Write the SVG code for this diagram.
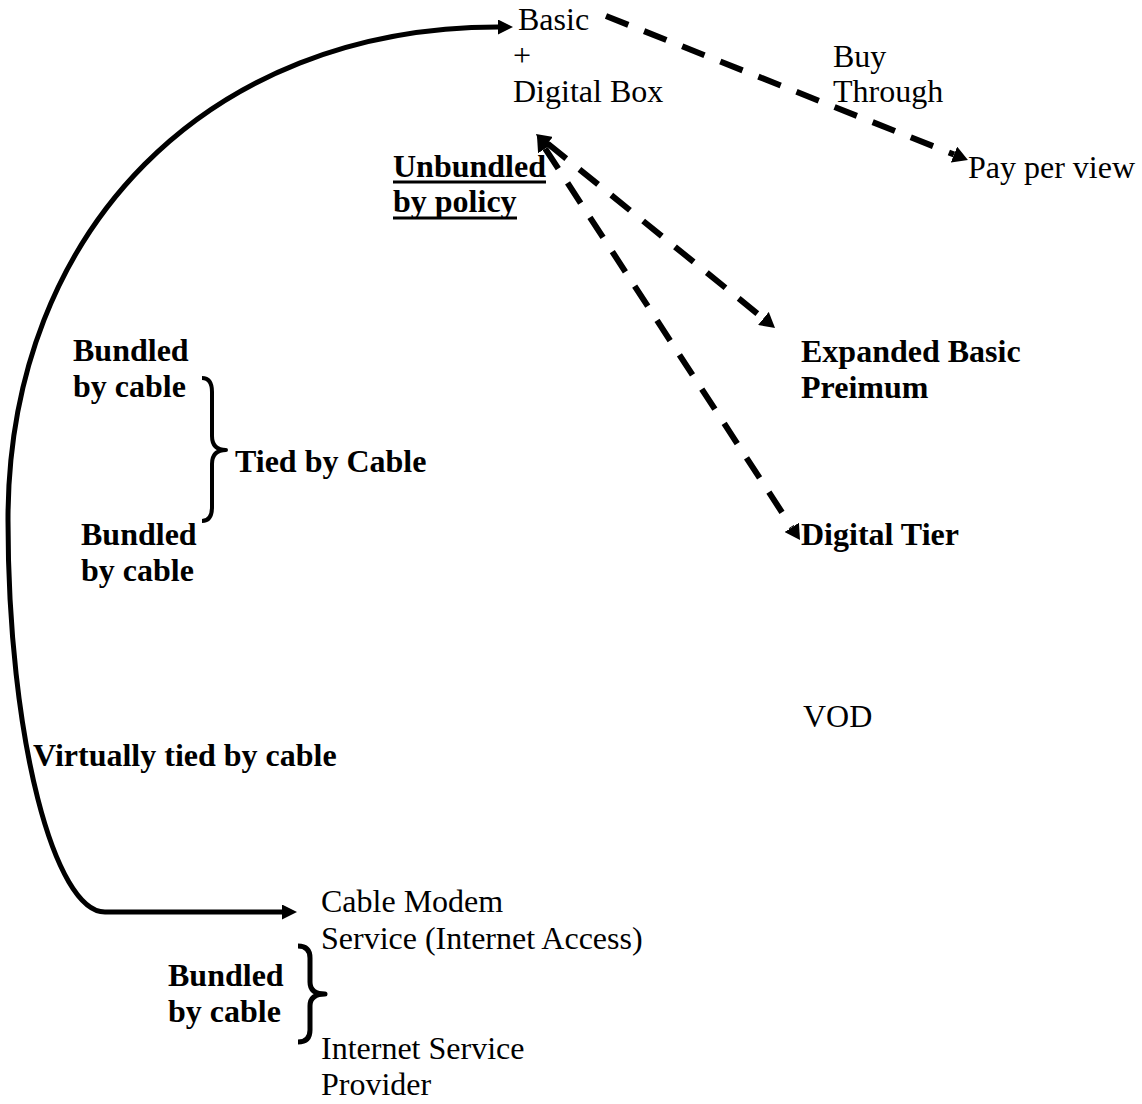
<svg xmlns="http://www.w3.org/2000/svg" width="1142" height="1104" viewBox="0 0 1142 1104">
<style>
text{font-family:"Liberation Serif","Times New Roman",serif;font-size:32px;fill:#000}
.b{font-weight:bold}
.solid{fill:none;stroke:#000;stroke-width:5}
.dash{fill:none;stroke:#000;stroke-width:6;stroke-dasharray:24 17}
.brace{fill:none;stroke:#000;stroke-width:4;stroke-linejoin:round}
.ul{stroke:#000;stroke-width:3}
</style>
<defs>
<marker id="ah" viewBox="0 0 15 15" refX="0" refY="7.5" markerWidth="15" markerHeight="15" markerUnits="userSpaceOnUse" orient="auto-start-reverse">
<path d="M0,0 L15,7.5 L0,15 z" fill="#000"/>
</marker>
<marker id="dh" viewBox="0 0 15 17" refX="0" refY="8.5" markerWidth="15" markerHeight="17" markerUnits="userSpaceOnUse" orient="auto-start-reverse">
<path d="M0,0 L15,8.5 L0,17 z" fill="#000"/>
</marker>
</defs>
<g id="connectors">
<path class="solid" d="M498,27 C209,27 8,229 8,520 C8,740 55,912 105,912 L282,912" marker-start="url(#ah)" marker-end="url(#ah)"/>
<path class="dash" d="M606,16 L954,154.5" marker-end="url(#dh)"/>
<path class="dash" d="M547.6,143.5 L763.4,318.5" marker-start="url(#dh)" marker-end="url(#dh)"/>
<path class="dash" d="M545.2,148.6 L791.8,527.4" marker-start="url(#dh)" marker-end="url(#dh)"/>
<path class="brace" d="M202,378 Q212,378 212,392 L212,436 Q212,450 226,450 Q212,450 212,464 L212,507 Q212,521 202,521"/>
<path class="brace" style="stroke-width:5" d="M298,946 Q310,946 310,958 L310,982 Q310,994 325,994 Q310,994 310,1006 L310,1030 Q310,1042 298,1042"/>
</g>
<g id="basic"><text x="518" y="30">Basic</text><text x="513" y="66">+</text><text x="513" y="102">Digital Box</text></g>
<g id="buy-through"><text x="833" y="67">Buy</text><text x="833" y="102">Through</text></g>
<g id="ppv"><text x="968" y="178">Pay per view</text></g>
<g id="unbundled"><text class="b" x="393" y="177">Unbundled</text><text class="b" x="393" y="212">by policy</text>
<line class="ul" x1="393" y1="182" x2="546" y2="182"/><line class="ul" x1="393" y1="218" x2="517" y2="218"/></g>
<g id="bundled1"><text class="b" x="73" y="361">Bundled</text><text class="b" x="73" y="397">by cable</text></g>
<g id="tied"><text class="b" x="235" y="472">Tied by Cable</text></g>
<g id="bundled2"><text class="b" x="81" y="545">Bundled</text><text class="b" x="81" y="581">by cable</text></g>
<g id="virtually"><text class="b" x="33" y="766">Virtually tied by cable</text></g>
<g id="expanded"><text class="b" x="801" y="362">Expanded Basic</text><text class="b" x="801" y="398">Preimum</text></g>
<g id="digital-tier"><text class="b" x="801" y="545">Digital Tier</text></g>
<g id="vod"><text x="803" y="727">VOD</text></g>
<g id="cable-modem"><text x="321" y="912">Cable Modem</text><text x="321" y="949">Service (Internet Access)</text></g>
<g id="bundled3"><text class="b" x="168" y="986">Bundled</text><text class="b" x="168" y="1022">by cable</text></g>
<g id="isp"><text x="321" y="1059">Internet Service</text><text x="321" y="1095">Provider</text></g>
</svg>
